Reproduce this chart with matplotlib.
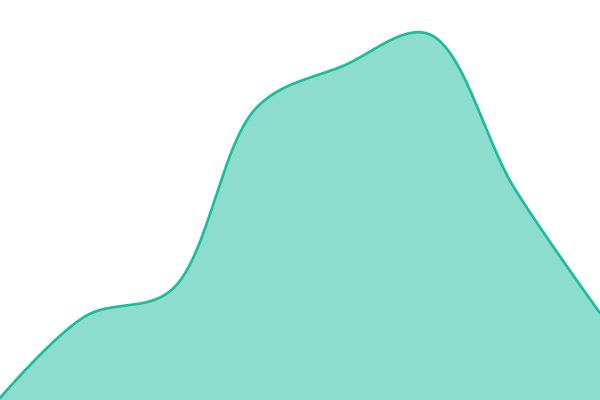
import numpy as np
import matplotlib
matplotlib.use("Agg")
import matplotlib.pyplot as plt

categories = list(range(8))
values = [2, 84, 110, 293, 334, 366, 212, 87]

W, H = 600, 400

def catmull_rom_centripetal(xs, ys, alpha=0.5, n=80):
    P = np.column_stack([xs, ys]).astype(float)
    pts = np.vstack([P[0], P, P[-1]])
    out = []
    for i in range(1, len(pts) - 2):
        p0, p1, p2, p3 = pts[i-1], pts[i], pts[i+1], pts[i+2]
        l01 = np.hypot(*(p1 - p0)); l12 = np.hypot(*(p2 - p1)); l23 = np.hypot(*(p3 - p2))
        l01a, l12a, l23a = l01**alpha, l12**alpha, l23**alpha
        l01_2a, l12_2a, l23_2a = l01**(2*alpha), l12**(2*alpha), l23**(2*alpha)
        c1 = p1.copy(); c2 = p2.copy()
        if l01a > 1e-12:
            a = 2*l01_2a + 3*l01a*l12a + l12_2a
            nn = 3*l01a*(l01a + l12a)
            c1 = (p1*a - p0*l12_2a + p2*l01_2a) / nn
        if l23a > 1e-12:
            b = 2*l23_2a + 3*l23a*l12a + l12_2a
            m = 3*l23a*(l23a + l12a)
            c2 = (p2*b + p1*l23_2a - p3*l12_2a) / m
        t = np.linspace(0, 1, n)[:, None]
        seg = (1-t)**3*p1 + 3*(1-t)**2*t*c1 + 3*(1-t)*t**2*c2 + t**3*p2
        out.append(seg if i == 1 else seg[1:])
    return np.vstack(out)

# work in pixel space so the centripetal parametrisation matches screen geometry
px = np.asarray(categories, float) * W / (len(categories) - 1)
py = np.asarray(values, float)
curve = catmull_rom_centripetal(px, py)
sx = curve[:, 0] * (len(categories) - 1) / W
sy = curve[:, 1]

fig = plt.figure(figsize=(6, 4), dpi=100)
ax = fig.add_axes([0, 0, 1, 1])
ax.fill_between(sx, 0, sy, color="#1abc9c", alpha=0.5, linewidth=0)
ax.plot(sx, sy, color="#1abc9c", linewidth=1.9, solid_capstyle="round")
ax.set_xlim(categories[0], categories[-1])
ax.set_ylim(0, H)
ax.axis("off")
fig.savefig("out.png", dpi=100)
